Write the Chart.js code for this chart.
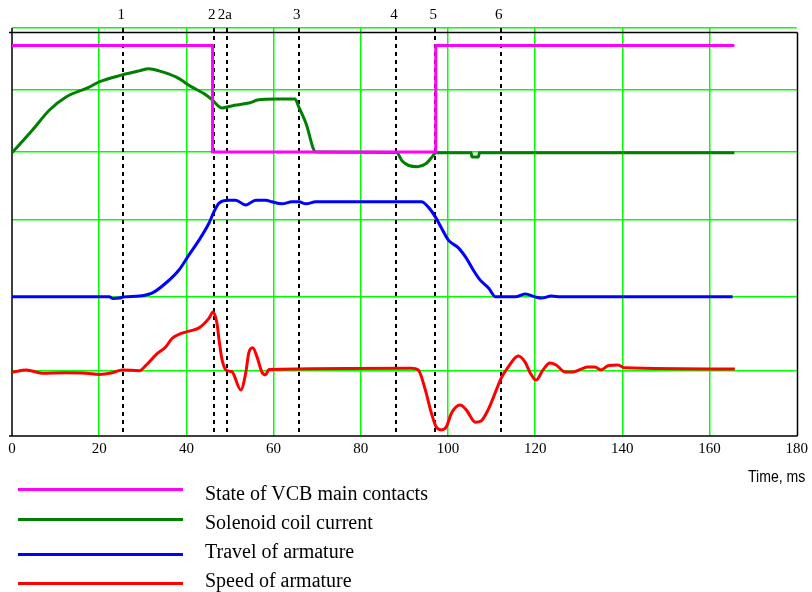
<!DOCTYPE html>
<html>
<head>
<meta charset="utf-8">
<script src="https://cdn.jsdelivr.net/npm/chart.js@4/dist/chart.umd.min.js"></script>
<style>
    body { margin: 0; background: #fff; }
    #wrap { position: relative; width: 812px; height: 592px; overflow: hidden; }
    #chart { position: absolute; left: 0; top: 0; }
    .key-line { position: absolute; left: 18px; width: 165px; height: 3px; }
    .key-text { position: absolute; left: 205px; height: 24px; line-height: 24px; font: 20px "Liberation Serif", "Times New Roman", serif; color: #000; white-space: nowrap; }
    #axis-name { position: absolute; left: 748px; top: 468px; line-height: 22px; font: 16px "Liberation Sans", Arial, sans-serif; color: #000; white-space: nowrap; transform: scaleX(0.88); transform-origin: left center; }
</style>
</head>
<body>
<div id="wrap">
    <canvas id="chart" width="812" height="592"></canvas>
    <div id="legend"></div>
    <div id="axis-name">Time, ms</div>
</div>
<script>
// time axis, ms
const timeTicks = [0, 20, 40, 60, 80, 100, 120, 140, 160, 180];
// horizontal grid levels (arbitrary units, 0 = bottom of plot)
const gridLevels = [15.9, 34.1, 52.9, 69.6, 84.8, 100];

// event markers
const markerTimes = [25.5, 46.3, 49.3, 65.8, 88.1, 97.1, 112.1];
const markerLabels = ['1', '2', '2a', '3', '4', '5', '6'];

// State of VCB main contacts
const contactTime = [0, 46.0, 46.0, 97.2, 97.2, 165.7];
const contactState = [95.7, 95.7, 69.6, 69.6, 95.7, 95.7];

// Solenoid coil current
const coilTime = [0, 4.7, 8.6, 12.4, 17.7, 20.0, 25.3, 29.2, 31.4, 33.7,
    37.6, 41.3, 44.5, 45.9, 48.2, 50.4, 54.3, 56.6, 60.5, 64.9,
    65.8, 67.4, 69.7, 88.2, 89.5, 91.0, 93.0, 95.0, 96.5, 97.1,
    105.3, 105.5, 107.0, 107.2, 165.7];
const coilCurrent = [69.4, 75.0, 79.9, 83.1, 85.5, 86.8, 88.5, 89.5, 90.0, 89.5,
    88.0, 85.5, 83.6, 82.4, 80.4, 80.9, 81.6, 82.4, 82.6, 82.6,
    80.6, 76.7, 69.6, 69.5, 67.4, 66.3, 66.0, 66.8, 68.6, 69.4,
    69.4, 68.4, 68.4, 69.4, 69.4];

// Travel of armature
const travelTime = [0, 22.3, 23.2, 24.6, 25.7, 29.2, 32.1, 35.3, 38.3, 40.6,
    42.9, 45.2, 46.3, 47.5, 49.7, 51.3, 53.6, 55.9, 58.2, 59.6,
    61.9, 64.2, 65.8, 67.4, 69.7, 93.9, 95.5, 97.1, 98.5, 100.1,
    102.4, 104.2, 105.8, 107.4, 109.3, 110.9, 115.5, 117.7, 120.0, 121.4,
    123.7, 125.9, 165.3];
const travelPos = [34.1, 34.1, 33.7, 33.8, 34.1, 34.3, 35.0, 37.5, 40.7, 44.4,
    48.0, 52.2, 54.9, 57.1, 57.8, 57.8, 56.6, 57.8, 57.8, 57.4,
    56.9, 57.4, 57.4, 56.9, 57.4, 57.4, 56.1, 53.7, 51.0, 48.0,
    46.1, 43.6, 40.7, 38.2, 36.3, 34.1, 34.1, 34.8, 34.1, 33.8,
    34.3, 34.1, 34.1];

// Speed of armature
const speedTime = [0, 3.3, 6.9, 12.4, 17.0, 20.0, 23.0, 25.3, 29.2, 30.8,
    33.0, 35.3, 36.7, 39.0, 40.6, 42.9, 45.2, 46.1, 47.0, 47.5,
    48.2, 49.3, 50.4, 52.5, 53.6, 54.3, 55.2, 56.2, 57.3, 58.2,
    58.9, 91.6, 93.2, 94.8, 96.2, 97.3, 98.5, 99.6, 100.8, 102.8,
    104.2, 106.3, 107.6, 109.2, 111.1, 112.2, 113.8, 116.1, 117.7, 118.9,
    120.2, 121.8, 123.4, 124.8, 126.9, 128.7, 130.5, 132.1, 133.7, 135.1,
    136.7, 139.0, 140.6, 165.8];
const speedVal = [15.6, 16.2, 15.4, 15.5, 15.4, 15.1, 15.5, 16.2, 16.0, 17.4,
    19.9, 21.9, 23.9, 25.2, 25.7, 26.5, 28.9, 30.4, 27.7, 23.5,
    18.6, 16.0, 15.8, 11.3, 15.4, 20.3, 21.6, 19.4, 15.7, 15.0,
    16.3, 16.6, 16.2, 11.3, 5.6, 2.2, 1.5, 2.2, 5.6, 7.6,
    6.4, 3.4, 3.7, 6.4, 11.3, 14.2, 16.9, 19.6, 18.1, 15.4,
    13.7, 16.2, 17.9, 17.4, 15.7, 15.7, 16.4, 16.9, 16.9, 16.2,
    17.2, 17.4, 16.7, 16.4];

const seriesNames = ['State of VCB main contacts', 'Solenoid coil current', 'Travel of armature', 'Speed of armature'];
const seriesColors = ['#ff00ff', '#008000', '#0000ff', '#ff0000'];

const frameTop = 99; // black box top edge, same units as the y scale

const toPoints = (xs, ys) => xs.map((t, i) => ({ x: t, y: ys[i] }));

// dotted event markers, their labels and the black frame
const framePlugin = {
    id: 'frame',
    beforeDatasetsDraw(chart) {
        const { ctx, scales: { x, y } } = chart;
        ctx.save();
        ctx.strokeStyle = '#000';
        ctx.lineWidth = 2;
        ctx.setLineDash([4, 4]);
        markerTimes.forEach(function(t) {
            const px = Math.round(x.getPixelForValue(t));
            ctx.beginPath();
            ctx.moveTo(px, y.top);
            ctx.lineTo(px, y.bottom);
            ctx.stroke();
        });
        ctx.setLineDash([]);

        ctx.fillStyle = '#000';
        ctx.font = '15px "Liberation Serif", "Times New Roman", serif';
        ctx.textAlign = 'center';
        ctx.textBaseline = 'middle';
        markerTimes.forEach(function(t, i) {
            ctx.fillText(markerLabels[i], x.getPixelForValue(t) - 2, 15);
        });

        // frame
        const yTop = Math.round(y.getPixelForValue(frameTop)) + 0.5;
        const xRight = Math.round(x.getPixelForValue(180)) + 0.5;
        ctx.lineWidth = 1.5;
        ctx.beginPath();
        ctx.moveTo(x.left - 3, yTop);
        ctx.lineTo(xRight, yTop);
        ctx.moveTo(xRight, yTop);
        ctx.lineTo(xRight, y.bottom);
        ctx.moveTo(x.left, y.top);
        ctx.lineTo(x.left, y.bottom);
        ctx.moveTo(x.left - 3, y.bottom);
        ctx.lineTo(xRight, y.bottom);
        ctx.stroke();
        ctx.restore();
    }
};

const ctx = document.getElementById('chart').getContext('2d');
new Chart(ctx, {
    type: 'line',
    data: {
        datasets: [
            { label: seriesNames[0], data: toPoints(contactTime, contactState), borderColor: seriesColors[0], borderWidth: 3, tension: 0 },
            { label: seriesNames[1], data: toPoints(coilTime, coilCurrent), borderColor: seriesColors[1], borderWidth: 3, cubicInterpolationMode: 'monotone' },
            { label: seriesNames[2], data: toPoints(travelTime, travelPos), borderColor: seriesColors[2], borderWidth: 3, cubicInterpolationMode: 'monotone' },
            { label: seriesNames[3], data: toPoints(speedTime, speedVal), borderColor: seriesColors[3], borderWidth: 3, cubicInterpolationMode: 'monotone' }
        ]
    },
    options: {
        responsive: false,
        animation: false,
        devicePixelRatio: 1,
        layout: { padding: { left: 12, top: 28, right: 13, bottom: 0 } },
        elements: { point: { radius: 0, hoverRadius: 0 }, line: { borderCapStyle: 'butt' } },
        plugins: { legend: { display: false }, tooltip: { enabled: false } },
        scales: {
            x: {
                type: 'linear',
                min: 0,
                max: 180,
                afterBuildTicks: function(scale) {
                    scale.ticks = timeTicks.map(v => ({ value: v }));
                },
                afterFit: function(scale) { scale.height = 156; },
                border: { display: false },
                grid: {
                    drawTicks: false,
                    lineWidth: 1.5,
                    color: ctx => (ctx.tick && (ctx.tick.value === 0 || ctx.tick.value === 180)) ? 'rgba(0,0,0,0)' : '#00ff00'
                },
                ticks: {
                    autoSkip: false,
                    maxRotation: 0,
                    padding: 4,
                    color: '#000',
                    font: { family: '"Liberation Serif", "Times New Roman", serif', size: 15 }
                }
            },
            y: {
                min: 0,
                max: 100,
                afterBuildTicks: function(scale) {
                    scale.ticks = gridLevels.map(v => ({ value: v }));
                },
                afterFit: function(scale) { scale.width = 0; },
                border: { display: false },
                grid: { drawTicks: false, lineWidth: 1.5, color: '#00ff00' },
                ticks: { display: false }
            }
        }
    },
    plugins: [framePlugin]
});

// legend below the plot
const legendLineY = [489, 519, 554, 583];
const legendTextY = [494, 523, 552, 581];
const legend = document.getElementById('legend');
seriesNames.forEach(function(name, i) {
    const line = document.createElement('div');
    line.className = 'key-line';
    line.style.top = (legendLineY[i] - 1.5) + 'px';
    line.style.background = seriesColors[i];
    legend.appendChild(line);

    const text = document.createElement('div');
    text.className = 'key-text';
    text.style.top = (legendTextY[i] - 12) + 'px';
    text.textContent = name;
    legend.appendChild(text);
});
</script>
</body>
</html>
